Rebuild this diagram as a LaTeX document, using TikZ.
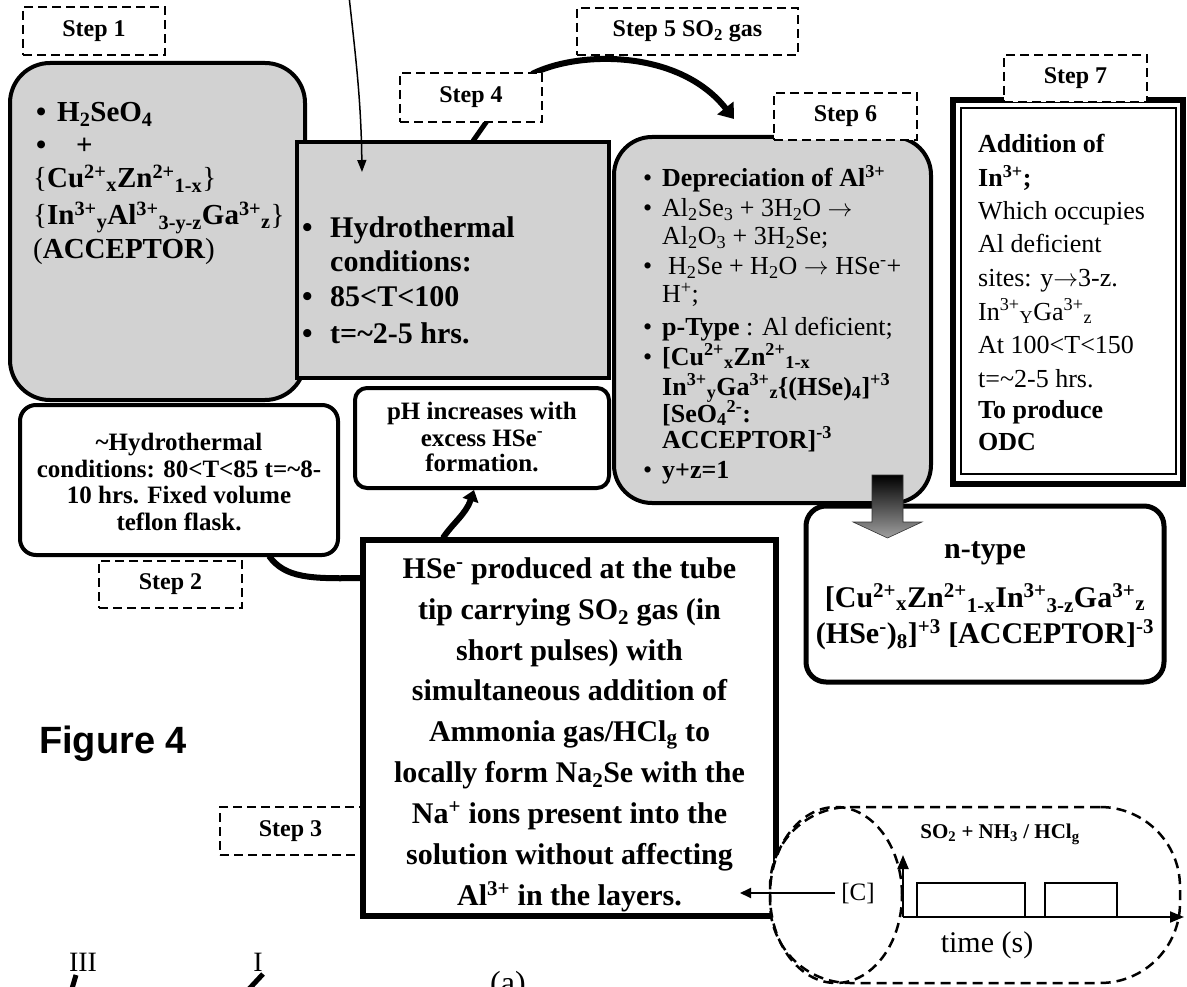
\documentclass[tikz,border=0pt]{standalone}
\usepackage{fontspec}
\setmainfont{Liberation Serif}
\newfontfamily\figsans{Liberation Sans}
\usetikzlibrary{arrows.meta,shapes.geometric}
\definecolor{boxgray}{RGB}{210,210,210}
\newcommand{\xsup}[1]{\textsuperscript{#1}}
\newcommand{\xsub}[1]{\textsubscript{#1}}
\newcommand{\fsz}[1]{\fontsize{#1}{#1}\selectfont}
\newcommand{\rarr}{\ensuremath{\rightarrow}}
\begin{document}
\begin{tikzpicture}[x=1pt,y=-1pt,
  txt/.style={inner sep=0pt,anchor=base west},
  ctxt/.style={inner sep=0pt,anchor=base},
  b30/.style={font=\fsz{30}\bfseries},
  b29/.style={font=\fsz{29}\bfseries},
  b26/.style={font=\fsz{26}\bfseries},
  r26/.style={font=\fsz{26}},
  b25/.style={font=\fsz{25}\bfseries},
  stepbox/.style={draw,fill=white,line width=2.5pt,dash pattern=on 9pt off 5pt,font=\fsz{24}\bfseries,inner sep=0pt},
  graybox/.style={draw,fill=boxgray,line width=4pt,inner sep=0pt},
  whitebox/.style={draw,fill=white,line width=4pt,inner sep=0pt},
  thickarrow/.style={line width=6pt,-{Triangle[length=14pt,width=20pt]}},
  dashshape/.style={draw,fill=white,line width=2.5pt,dash pattern=on 10pt off 6pt,inner sep=0pt}
]
\useasboundingbox (0,0) rectangle (1187,987);

\coordinate (tin) at (349,-4);
\coordinate (tend) at (362,172);

% ---- Step 1 box
\node[graybox,rounded corners=40pt,minimum width=295pt,minimum height=337pt] (b1) at (157.5,231.5) {};
% ---- Step 4 box
\node[graybox,minimum width=312pt,minimum height=236pt] (b4) at (453,260) {};
% ---- Step 6 box
\node[graybox,rounded corners=38pt,minimum width=317pt,minimum height=366pt] (b6) at (772.5,320) {};
% ---- Step 7 box
\node[draw,fill=white,line width=6pt,minimum width=230pt,minimum height=384pt,inner sep=0pt] (b7o) at (1068,292) {};
\node[draw,line width=2pt,minimum width=215pt,minimum height=366pt,inner sep=0pt] (b7i) at (1068.5,291) {};
% ---- Step 2 box
\node[whitebox,rounded corners=16pt,minimum width=318pt,minimum height=150pt] (b2) at (179,480) {};
% ---- pH box
\node[whitebox,rounded corners=12pt,minimum width=254pt,minimum height=100pt] (bph) at (482,438) {};
% ---- Step 3 label (behind centre box)
\node[stepbox,minimum width=141pt,minimum height=48pt] (st3) at (290.5,831) {Step 3};
% ---- centre box
\node[draw,fill=white,line width=6pt,minimum width=413pt,minimum height=376pt,inner sep=0pt] (bc) at (569.5,728) {};
% ---- n-type box
\node[whitebox,line width=5pt,rounded corners=20pt,minimum width=358pt,minimum height=176pt] (bn) at (985,594) {};

% ---- block arrow
\coordinate (ba) at (887.5,475);
\shade[top color=black,bottom color=gray!75,draw=black!80,line width=0.6pt]
  (872,475) -- (903,475) -- (903,522) -- (922,522) -- (887.5,538) -- (853,522) -- (872,522) -- cycle;

% ---- thin top arrow
\draw[line width=1.5pt,-{Triangle[length=12pt,width=9pt]}] (tin) .. controls (356,60) and (361,100) .. (tend);

% ---- step 4 connector
\coordinate (c4a) at (487,121);
\coordinate (c4b) at (473,141);
\draw[line width=5pt] (c4a) -- (c4b);

% ---- step 5 arc
\coordinate (c5a) at (532,74);
\coordinate (c5b) at (734,119);
\draw[thickarrow] (c5a) .. controls (580,50) and (680,50) .. (c5b);

% ---- step 2 curve
\coordinate (c2a) at (269,556);
\coordinate (c2b) at (362,578);
\draw[line width=6pt] (c2a) .. controls (285,578) and (310,579) .. (c2b);

% ---- centre -> pH arrow
\coordinate (cpa) at (443,538);
\coordinate (cpb) at (474,490);
\draw[line width=6pt,-{Triangle[length=11pt,width=16pt]}] (cpa) .. controls (452,524) and (466,514) .. (cpb);

% ---- dashed step labels
\node[stepbox,minimum width=142pt,minimum height=48pt] (st1) at (94,31) {Step 1};
\node[stepbox,minimum width=143pt,minimum height=47pt] (st2) at (170.5,584.5) {Step 2};
\node[stepbox,minimum width=142pt,minimum height=49pt] (st4) at (471,97.5) {Step 4};
\node[stepbox,minimum width=221pt,minimum height=47pt] (st5) at (687.5,31.5) {Step 5 SO\xsub{2} gas};
\node[stepbox,minimum width=143pt,minimum height=47pt] (st6) at (845.5,116.5) {Step 6};
\node[stepbox,minimum width=143pt,minimum height=47pt] (st7) at (1075.5,78.5) {Step 7};

% ---- Step 1 text
\node[txt,b29] (s1a) at (36,122) {\makebox[21pt][l]{•}H\xsub{2}SeO\xsub{4}};
\node[txt,b29] (s1b) at (36,155) {\makebox[40pt][l]{•}+};
\node[txt,b29] (s1c) at (33,188) {{\mdseries\{}Cu\xsup{2+}\xsub{x}Zn\xsup{2+}\xsub{1-x}{\mdseries\}}};
\node[txt,b29] (s1d) at (33,225) {{\mdseries\{}In\xsup{3+}\xsub{y}Al\xsup{3+}\xsub{3-y-z}Ga\xsup{3+}\xsub{z}{\mdseries\}}};
\node[txt,b29] (s1e) at (33,259) {{\mdseries(}ACCEPTOR{\mdseries)}};

% ---- Step 4 text
\node[txt,b30] (s4a) at (302,238) {\makebox[28pt][l]{•}Hydrothermal};
\node[txt,b30] (s4b) at (330,272) {conditions:};
\node[txt,b30] (s4c) at (302,307) {\makebox[28pt][l]{•}85<T<100};
\node[txt,b30] (s4d) at (302,343) {\makebox[28pt][l]{•}t=\textasciitilde2-5 hrs.};

% ---- Step 6 text
\node[txt,r26] (s6a) at (643,187) {\makebox[19pt][l]{•}\textbf{Depreciation of Al\xsup{3+}}};
\node[txt,r26] (s6b) at (643,217) {\makebox[19pt][l]{•}Al\xsub{2}Se\xsub{3} + 3H\xsub{2}O \rarr};
\node[txt,r26] (s6c) at (662,245) {Al\xsub{2}O\xsub{3} + 3H\xsub{2}Se;};
\node[txt,r26] (s6d) at (643,275) {\makebox[25pt][l]{•}H\xsub{2}Se + H\xsub{2}O \rarr{} HSe\xsup{-}+};
\node[txt,r26] (s6e) at (662,303) {H\xsup{+};};
\node[txt,r26] (s6f) at (643,335) {\makebox[19pt][l]{•}\textbf{p-Type} : Al deficient;};
\node[txt,r26] (s6g) at (643,365) {\makebox[19pt][l]{•}\textbf{[Cu\xsup{2+}\xsub{x}Zn\xsup{2+}\xsub{1-x}}};
\node[txt,b26] (s6h) at (662,395) {In\xsup{3+}\xsub{y}Ga\xsup{3+}\xsub{z}\{(HSe)\xsub{4}]\xsup{+3}};
\node[txt,b26] (s6i) at (662,422) {[SeO\xsub{4}\xsup{2-}:};
\node[txt,b26] (s6j) at (662,448) {ACCEPTOR]\xsup{-3}};
\node[txt,r26] (s6k) at (643,478) {\makebox[19pt][l]{•}\textbf{y+z=1}};

% ---- Step 7 text
\node[txt,b26] (s7a) at (978,153) {Addition of};
\node[txt,b26] (s7b) at (978,187) {In\xsup{3+};};
\node[txt,r26] (s7c) at (978,220) {Which occupies};
\node[txt,r26] (s7d) at (978,253) {Al deficient};
\node[txt,r26] (s7e) at (978,287) {sites: y\rarr3-z.};
\node[txt,r26] (s7f) at (978,320) {In\xsup{3+}\xsub{Y}Ga\xsup{3+}\xsub{z}};
\node[txt,r26] (s7g) at (978,353) {At 100<T<150};
\node[txt,r26] (s7h) at (978,387) {t=\textasciitilde2-5 hrs.};
\node[txt,b26] (s7i) at (978,418) {To produce};
\node[txt,b26] (s7j) at (978,450) {ODC};

% ---- Step 2 text
\node[ctxt,b25] (s2a) at (179,450) {\textasciitilde Hydrothermal};
\node[ctxt,b25] (s2b) at (179,477) {conditions: 80<T<85 t=\textasciitilde8-};
\node[ctxt,b25] (s2c) at (179,503) {10 hrs. Fixed volume};
\node[ctxt,b25] (s2d) at (179,530) {teflon flask.};

% ---- pH text
\node[ctxt,b25] (pha) at (482,419) {pH increases with};
\node[ctxt,b25] (phb) at (482,446) {excess HSe\xsup{-}};
\node[ctxt,b25] (phc) at (482,471) {formation.};

% ---- centre text
\node[ctxt,b30] (ca) at (569.5,578) {HSe\xsup{-} produced at the tube};
\node[ctxt,b30] (cb) at (569.5,619) {tip carrying SO\xsub{2} gas (in};
\node[ctxt,b30] (cc) at (569.5,660) {short pulses) with};
\node[ctxt,b30] (cd) at (569.5,700) {simultaneous addition of};
\node[ctxt,b30] (ce) at (569.5,741) {Ammonia gas/HCl\xsub{g} to};
\node[ctxt,b30] (cf) at (569.5,782) {locally form Na\xsub{2}Se with the};
\node[ctxt,b30] (cg) at (569.5,823) {Na\xsup{+} ions present into the};
\node[ctxt,b30] (ch) at (569.5,864) {solution without affecting};
\node[ctxt,b30] (ci) at (569.5,905) {Al\xsup{3+} in the layers.};

% ---- n-type text
\node[ctxt,b30] (na) at (985,558) {n-type};
\node[ctxt,b30] (nb) at (985,607) {[Cu\xsup{2+}\xsub{x}Zn\xsup{2+}\xsub{1-x}In\xsup{3+}\xsub{3-z}Ga\xsup{3+}\xsub{z}};
\node[ctxt,b30] (nc) at (985,643) {(HSe\xsup{-})\xsub{8}]\xsup{+3} [ACCEPTOR]\xsup{-3}};

% ---- Figure 4
\node[inner sep=0pt,font=\figsans\fsz{38}\bfseries] (fig) at (113,744) {Figure 4};

% ---- timing diagram
\node[dashshape,rounded corners=80pt,minimum width=410pt,minimum height=176pt] (stad) at (975,895) {};
\node[dashshape,fill=none,ellipse,minimum width=132pt,minimum height=176pt] (ell) at (836,895) {};
\node[inner sep=0pt,font=\fsz{25}] (cC) at (858,893) {[C]};
\coordinate (cCend) at (740,893);
\draw[line width=1.8pt,-{Triangle[length=11pt,width=10pt]}] (cC.west) ++(-6,0) -- (cCend);
\coordinate (org) at (903,917);
\coordinate (yax) at (903,855);
\coordinate (xax) at (1184,917);
\draw[line width=2.2pt,-{Triangle[length=14pt,width=11pt]}] (org) -- (yax);
\draw[line width=2pt,-{Triangle[length=14pt,width=11pt]}] (org) -- (xax);
\draw[line width=1.5pt] (917,917) -- (917,883) -- (1025,883) -- (1025,917);
\draw[line width=1.5pt] (1045,917) -- (1045,883) -- (1117,883) -- (1117,917);
\node[inner sep=0pt,font=\fsz{21}\bfseries] (sol) at (1000,834) {SO\xsub{2} + NH\xsub{3} / HCl\xsub{g}};
\node[inner sep=0pt,font=\fsz{30}] (tim) at (987,945) {time (s)};

% ---- bottom fragments
\node[inner sep=0pt,font=\fsz{28}] (r3) at (83,962) {III};
\node[inner sep=0pt,font=\fsz{28}] (r1) at (258,962) {I};
\draw[line width=5pt] (76,975) -- (71,992);
\draw[line width=5pt] (263,974) -- (249,989);
\node[inner sep=0pt,anchor=north,font=\fsz{32}] (pa) at (508,971) {(a)};
\end{tikzpicture}
\end{document}
